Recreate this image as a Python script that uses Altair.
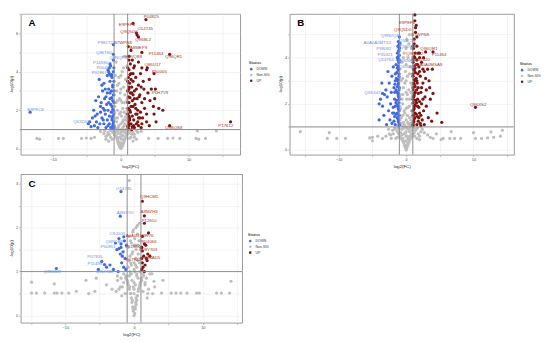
import altair as alt
import pandas as pd

# ---------------- data ----------------
STATUS = ["DOWN", "Non-SIG", "UP"]
STATUS_COLORS = ["#4169E1", "#bebebe", "#7d1414"]

X_TICKS = [-15, -10, -5, 0, 5, 10, 15]

# Panel A
A_NONSIG = [(0, 0.02), (0.1, 0.05), (-0.1, 0.08), (0.2, 0.12), (-0.2, 0.15), (0.3, 0.2), (-0.3, 0.22),
            (0.4, 0.3), (-0.4, 0.3), (0.5, 0.4), (-0.5, 0.42), (0.6, 0.5), (-0.6, 0.55), (0.7, 0.6),
            (-0.75, 0.62), (0.8, 0.7), (-0.85, 0.72), (0.9, 0.8), (-0.95, 0.85), (1.0, 0.9), (-1.1, 0.9),
            (1.2, 0.95), (-1.3, 0.95), (0, 0.3), (0.1, 0.5), (-0.2, 0.6), (0.3, 0.7), (-0.4, 0.8),
            (0.2, 0.9), (0, 0.85), (-1.5, 0.6), (-2.0, 0.7), (-2.5, 0.8), (-3.0, 0.9), (1.5, 0.6),
            (2.0, 0.75), (2.5, 0.85), (3.0, 0.9), (-1.8, 0.4), (1.8, 0.4), (-2.2, 0.5), (2.3, 0.5),
            (-0.15, 0.15), (0.15, 0.2), (-0.25, 0.35), (0.25, 0.3), (0.45, 0.45), (-0.45, 0.5),
            (0.65, 0.6), (-0.65, 0.65), (0.85, 0.7), (-0.9, 0.75), (1.1, 0.8), (-1.2, 0.85), (1.4, 0.9),
            (-1.5, 0.95), (0, 0.6), (0, 0.75), (0.4, 0.95), (-0.4, 0.95), (1.3, 0.55), (-1.3, 0.5),
            (1.8, 0.85), (-1.9, 0.85), (2.3, 0.95), (-2.4, 0.95), (1.6, 0.75), (-1.7, 0.75), (0.6, 0.85),
            (-0.7, 0.9), (2.0, 0.6), (-2.2, 0.65),
            (0, 1.0), (0.3, 1.1), (-0.3, 1.2), (0.6, 1.3), (-0.6, 1.4), (0.8, 1.5), (-0.8, 1.6),
            (0.1, 1.7), (0.5, 1.9), (-0.5, 2.0), (0.9, 2.1), (-0.9, 2.2), (0.2, 2.4), (-0.2, 2.6),
            (0.6, 2.8), (-0.6, 3.0), (0.4, 3.2), (-0.3, 3.4), (0.7, 3.6), (-0.8, 3.8), (0.2, 4.0),
            (0.9, 4.3), (-0.7, 4.5), (0.5, 4.8), (-0.4, 1.1), (0.7, 1.0), (-0.9, 1.2), (0.4, 1.5),
            (-0.2, 1.8), (0.8, 1.8), (-0.7, 2.4), (0.3, 2.1), (-0.1, 2.9), (0.9, 2.5), (-0.5, 3.3),
            (-0.95, 1.1), (0.95, 1.2), (-0.95, 1.5), (0.95, 1.6), (-0.95, 1.9), (0.95, 2.0), (-0.95, 2.4),
            (0.95, 2.6), (-0.95, 2.8), (0.95, 3.0), (0, 1.3), (0, 1.9), (0, 2.5), (0, 3.1), (0, 3.8),
            (-0.5, 1.6), (0.5, 1.2), (-0.5, 2.5), (0.5, 2.4), (-0.3, 3.7), (0.4, 4.2), (0.25, 1.4),
            (-0.65, 1.05), (0.65, 1.65),
            (-12.4, 0.54), (-12.0, 0.5), (-9.2, 0.54), (-8.5, 0.54), (-5.8, 0.54), (-5.1, 0.56),
            (-4.4, 0.54), (-3.9, 0.6), (4.1, 0.54), (5.5, 0.54), (6.9, 0.54), (7.7, 0.56),
            (8.7, 0.54), (11.1, 0.54), (11.5, 0.5), (12.5, 0.54), (11.3, 0.93), (14.1, 0.93)]
A_DOWN = [(-1.1, 1.05), (-1.2, 1.2), (-1.1, 1.4), (-1.3, 1.5), (-1.2, 1.7), (-1.4, 1.9), (-1.1, 2.0),
          (-1.3, 2.2), (-1.5, 2.3), (-1.2, 2.5), (-1.6, 2.6), (-1.1, 2.8), (-1.4, 3.0), (-1.8, 3.1),
          (-1.2, 3.3), (-1.6, 3.5), (-1.3, 3.7), (-2.0, 3.8), (-1.7, 3.9), (-1.1, 4.0), (-1.5, 4.3),
          (-2.2, 1.1), (-2.5, 1.3), (-2.0, 1.5), (-2.8, 1.6), (-2.3, 1.8), (-3.0, 1.9), (-2.6, 2.1),
          (-2.1, 2.3), (-2.9, 2.4), (-2.4, 2.6), (-3.3, 2.7), (-2.0, 2.9), (-2.7, 3.0), (-3.6, 1.4),
          (-3.9, 1.2), (-4.4, 1.15), (-3.4, 1.1), (-4.2, 1.6), (-3.5, 1.8), (-3.2, 3.6), (-2.5, 3.4),
          (-3.0, 2.2), (-1.9, 2.0), (-1.7, 1.3), (-1.5, 1.1), (-4.0, 2.0), (-3.7, 2.5),
          (-1.03, 1.15), (-1.15, 1.3), (-1.3, 1.6), (-1.03, 1.8), (-1.2, 2.05), (-1.03, 2.4),
          (-1.35, 2.65), (-1.03, 3.0), (-1.2, 3.2), (-1.03, 3.5), (-1.35, 3.85), (-1.03, 4.2),
          (-1.7, 1.7), (-1.8, 2.4), (-1.6, 2.9), (-2.2, 2.7), (-2.4, 2.0), (-1.9, 1.2), (-2.6, 1.5),
          (-3.1, 1.3), (-3.8, 1.7), (-4.6, 1.4), (-2.3, 3.1), (-2.8, 3.3), (-1.5, 3.8), (-1.9, 4.1)]
A_UP = [(1.1, 1.05), (1.2, 1.2), (1.1, 1.4), (1.3, 1.5), (1.2, 1.7), (1.4, 1.9), (1.1, 2.1), (1.5, 2.2),
        (1.2, 2.4), (1.7, 2.5), (1.1, 2.7), (1.4, 2.9), (1.2, 3.1), (1.6, 3.2), (1.3, 3.4), (1.8, 3.5),
        (1.1, 3.7), (1.5, 3.9), (1.2, 4.1), (1.9, 4.2), (1.4, 4.4), (1.7, 4.6), (2.0, 1.1), (2.3, 1.3),
        (1.9, 1.5), (2.6, 1.6), (2.2, 1.8), (2.9, 1.9), (2.5, 2.0), (2.1, 2.3), (3.1, 2.4), (2.4, 2.6),
        (2.8, 2.8), (2.0, 3.0), (2.6, 3.3), (3.3, 3.5), (2.2, 3.7), (2.9, 3.9), (2.0, 4.3), (3.1, 4.2),
        (3.8, 4.1), (4.2, 3.6), (3.4, 3.1), (4.5, 3.1), (2.7, 2.7), (3.5, 2.6), (4.8, 2.2), (5.6, 2.1),
        (6.2, 2.0), (3.8, 1.8), (4.9, 1.8), (3.8, 1.4), (5.2, 1.4), (4.2, 1.2), (3.0, 1.1), (2.5, 1.4),
        (3.2, 1.6), (4.0, 2.9), (1.6, 1.0), (1.3, 2.0), (1.8, 2.8), (1.5, 3.6),
        (1.03, 1.15), (1.15, 1.3), (1.3, 1.6), (1.03, 1.8), (1.2, 2.05), (1.03, 2.4), (1.35, 2.65),
        (1.03, 3.0), (1.2, 3.2), (1.03, 3.5), (1.35, 3.85), (1.03, 4.2), (1.7, 1.7), (1.8, 2.2),
        (1.6, 2.9), (2.2, 2.1), (2.4, 1.8), (1.9, 1.2), (2.6, 1.2), (3.1, 1.3), (1.5, 1.3), (1.7, 1.15),
        (2.0, 2.6), (2.3, 3.1), (1.8, 3.9), (1.2, 4.6), (2.6, 4.5), (3.5, 2.1), (4.3, 2.5), (5.0, 2.6),
        (3.0, 3.2), (2.8, 1.6)]
# labelled points: (name, point x, point y, label x, label y)
A_LAB_DOWN = [("P98172", -1.1, 5.4, -2.3, 5.5), ("Q96T60", -1.1, 4.9, -2.5, 4.96),
              ("Q9NQP4", -1.1, 4.6, -0.4, 4.72), ("P14580", -1.6, 4.4, -3.0, 4.47),
              ("P00441", -1.7, 4.2, -2.5, 4.2), ("P02867", -1.8, 4.0, -3.2, 3.92),
              ("E9PFC6", -13.4, 1.9, -12.6, 2.0), ("Q6XD53", -4.8, 1.3, -5.8, 1.4)]
A_LAB_UP = [("P04825", 3.7, 6.7, 4.5, 6.83), ("E9PEF6", 1.8, 6.5, 0.9, 6.42), ("O14745", 2.3, 6.0, 3.6, 6.2),
            ("Q9Q5D0", 2.4, 5.9, 1.2, 6.06), ("Q96BL2", 2.6, 5.8, 3.3, 5.66), ("B7WPN8", 1.1, 5.3, 0.3, 5.48),
            ("A8MEP9", 1.5, 5.1, 2.6, 5.2), ("P11464", 3.1, 5.0, 5.2, 4.9), ("Q96QR1", 7.2, 4.9, 7.8, 4.76),
            ("F8VQ88", 1.2, 4.8, 1.9, 4.75), ("Q86U17", 3.9, 4.2, 4.7, 4.33), ("P50005", 4.9, 3.9, 5.7, 4.0),
            ("P0H7V9", 5.1, 3.1, 5.8, 2.9), ("Q9BQS8", 7.2, 1.2, 7.8, 1.06), ("P17612", 16.2, 1.4, 15.5, 1.17)]

# Panel B
B_NONSIG = [(0, 0.0), (0.1, 0.05), (-0.1, 0.1), (0.2, 0.15), (-0.2, 0.2), (0.3, 0.25), (-0.35, 0.3),
            (0.45, 0.35), (-0.5, 0.4), (0.6, 0.45), (-0.7, 0.5), (0.8, 0.55), (-0.9, 0.6), (1.0, 0.65),
            (-1.1, 0.7), (1.2, 0.75), (-1.3, 0.8), (1.4, 0.85), (-1.6, 0.9), (1.7, 0.95), (-2.0, 0.85),
            (2.2, 0.8), (-2.5, 0.7), (2.7, 0.75), (-3.0, 0.6), (3.2, 0.65), (-3.5, 0.5), (3.6, 0.55),
            (0, 0.4), (0.2, 0.6), (-0.3, 0.7), (0.5, 0.8), (-0.6, 0.9), (0.1, 0.95), (-0.1, 0.75),
            (0.3, 0.5), (-2.2, 0.5), (2.0, 0.45), (-1.5, 0.5), (1.6, 0.5), (-4.2, 0.6), (4.5, 0.7),
            (-5.0, 0.4), (5.2, 0.45),
            (-0.15, 0.15), (0.15, 0.2), (-0.25, 0.35), (0.25, 0.3), (0.4, 0.45), (-0.45, 0.5), (0.6, 0.6),
            (-0.6, 0.65), (0.75, 0.7), (-0.8, 0.75), (0.9, 0.85), (-1.0, 0.9), (1.1, 0.95), (-1.2, 0.95),
            (0, 0.6), (0, 0.8), (0.35, 0.9), (-0.3, 0.95), (1.3, 0.6), (-1.3, 0.55), (1.8, 0.7),
            (-1.9, 0.7), (2.4, 0.9), (-2.6, 0.9), (1.5, 0.9), (-1.7, 0.95), (0.6, 0.95), (-0.6, 0.45),
            (2.0, 0.6), (-2.3, 0.65),
            (-11.7, 0.5), (-10.3, 0.5), (-9.0, 0.5), (-5.4, 0.52), (-5.0, 0.55), (4.0, 0.5), (5.5, 0.5),
            (6.5, 0.5), (7.2, 0.5), (8.1, 0.5), (10.3, 0.5), (11.2, 0.5), (12.1, 0.52), (13.0, 0.55),
            (14.0, 0.6), (-15.7, 0.8), (-11.4, 0.75), (6.7, 0.8), (10.0, 0.75), (12.6, 0.78), (14.3, 0.85),
            (0, 1.0), (0.4, 1.1), (-0.4, 1.2), (0.7, 1.3), (-0.7, 1.4), (0.2, 1.5), (-0.2, 1.6), (0.8, 1.7),
            (-0.8, 1.8), (0.5, 1.9), (-0.5, 2.0), (0.1, 2.2), (0.9, 2.3), (-0.9, 2.4), (0.4, 2.6),
            (-0.4, 2.7), (0.7, 2.9), (-0.7, 3.0), (0.2, 3.2), (-0.1, 3.4), (0.6, 3.6), (-0.6, 3.8),
            (0.3, 4.0), (-0.3, 4.2), (0.8, 4.4), (-0.8, 4.6), (0.1, 4.8), (0.5, 5.0), (-0.5, 1.05),
            (0.6, 1.15), (-0.9, 1.3), (0.9, 1.45), (-0.3, 1.7), (0.3, 1.85), (-0.6, 2.2), (0.7, 2.5),
            (-0.2, 2.9), (0.2, 2.4),
            (-0.95, 1.1), (0.95, 1.2), (-0.95, 1.5), (0.95, 1.6), (-0.95, 1.9), (0.95, 2.0), (-0.95, 2.3),
            (0.95, 2.4), (-0.95, 2.7), (0.95, 2.8), (-0.95, 3.1), (0.95, 3.2), (-0.95, 3.5), (0.95, 3.6),
            (-0.95, 3.9), (0.95, 4.0), (0, 1.3), (0, 1.8), (0, 2.5), (0, 3.0), (0, 3.7), (0, 4.4),
            (-0.5, 1.5), (0.5, 1.4), (-0.5, 2.4), (0.5, 2.2), (-0.5, 3.1), (0.5, 3.3), (-0.4, 4.0),
            (0.4, 4.6), (-0.25, 1.1), (0.25, 1.2), (0.65, 1.05), (-0.75, 1.15)]
B_DOWN = [(-1.05, 1.05), (-1.1, 1.2), (-1.2, 1.35), (-1.05, 1.5), (-1.3, 1.6), (-1.1, 1.75), (-1.2, 1.9),
          (-1.05, 2.05), (-1.4, 2.15), (-1.1, 2.3), (-1.2, 2.45), (-1.05, 2.6), (-1.3, 2.75), (-1.1, 2.9),
          (-1.2, 3.05), (-1.05, 3.2), (-1.4, 3.35), (-1.1, 3.5), (-1.2, 3.65), (-1.05, 3.8), (-1.3, 4.0),
          (-1.1, 4.3), (-1.2, 4.5), (-1.6, 1.1), (-1.8, 1.25), (-2.1, 1.15), (-1.7, 1.45), (-2.4, 1.3),
          (-2.0, 1.6), (-2.6, 1.7), (-1.9, 1.85), (-2.3, 2.0), (-1.7, 2.2), (-2.8, 2.3), (-2.2, 2.5),
          (-1.8, 2.7), (-3.0, 2.6), (-2.5, 2.9), (-1.6, 3.0), (-2.1, 3.2), (-3.6, 2.9), (-3.8, 2.2),
          (-4.0, 2.0), (-4.0, 1.3), (-3.3, 1.5), (-3.5, 1.9), (-2.9, 1.1), (-3.2, 2.4), (-2.7, 3.4),
          (-1.9, 3.6),
          (-1.03, 1.1), (-1.15, 1.25), (-1.3, 1.4), (-1.45, 1.55), (-1.03, 1.7), (-1.15, 1.8),
          (-1.3, 1.95), (-1.5, 2.05), (-1.03, 2.2), (-1.15, 2.35), (-1.3, 2.5), (-1.5, 2.6), (-1.03, 2.7),
          (-1.15, 2.85), (-1.3, 3.0), (-1.45, 3.1), (-1.03, 3.3), (-1.15, 3.45), (-1.3, 3.55),
          (-1.5, 3.7), (-1.03, 3.9), (-1.15, 4.05), (-1.3, 4.2), (-1.03, 4.45), (-1.15, 4.7),
          (-1.6, 1.9), (-1.7, 2.5), (-1.6, 3.3), (-1.8, 1.6), (-1.65, 2.85)]
B_UP = [(1.05, 1.05), (1.1, 1.2), (1.2, 1.35), (1.05, 1.5), (1.3, 1.6), (1.1, 1.75), (1.2, 1.9),
        (1.05, 2.05), (1.4, 2.15), (1.1, 2.3), (1.25, 2.45), (1.05, 2.6), (1.35, 2.75), (1.1, 2.9),
        (1.2, 3.05), (1.05, 3.2), (1.4, 3.35), (1.1, 3.5), (1.25, 3.65), (1.05, 3.8), (1.3, 4.0),
        (1.1, 4.4), (1.2, 4.6), (1.3, 5.85), (1.6, 1.1), (1.8, 1.25), (2.1, 1.15), (1.7, 1.45),
        (2.4, 1.3), (2.0, 1.6), (2.6, 1.7), (1.9, 1.85), (2.3, 2.0), (1.7, 2.2), (2.8, 2.3), (2.2, 2.5),
        (1.8, 2.7), (3.0, 2.6), (2.5, 2.9), (1.6, 3.0), (2.1, 3.2), (2.7, 3.4), (1.9, 3.6), (2.3, 3.8),
        (3.2, 3.5), (2.5, 3.5), (2.0, 4.0), (1.6, 4.5), (3.4, 3.0), (3.0, 1.9), (3.3, 1.4), (2.7, 1.1),
        (3.6, 2.2), (3.9, 3.5), (4.0, 2.45), (4.6, 1.6), (5.3, 1.2), (3.8, 1.25), (3.5, 2.7), (2.9, 3.1),
        (1.03, 1.1), (1.15, 1.25), (1.3, 1.4), (1.5, 1.55), (1.03, 1.7), (1.2, 1.8), (1.35, 1.95),
        (1.55, 2.05), (1.03, 2.2), (1.2, 2.35), (1.35, 2.5), (1.55, 2.6), (1.03, 2.7), (1.2, 2.85),
        (1.35, 3.0), (1.5, 3.1), (1.03, 3.3), (1.2, 3.45), (1.35, 3.55), (1.55, 3.7), (1.03, 3.9),
        (1.2, 4.05), (1.35, 4.2), (1.03, 4.5), (1.2, 4.8), (1.7, 1.9), (1.8, 2.45), (1.75, 3.3),
        (1.9, 1.4), (1.65, 2.9), (2.0, 2.1), (2.2, 1.5), (2.5, 2.2), (2.3, 2.7), (2.0, 3.4), (2.6, 4.0),
        (1.8, 4.2), (1.4, 5.1), (1.5, 5.4), (2.2, 1.05)]
B_LAB_DOWN = [("Q9NVQ4", -1.0, 4.9, -2.4, 4.94), ("A0A0A0MT32", -1.0, 4.65, -4.3, 4.62),
              ("Q5AC51", -1.05, 4.55, 0.2, 4.7), ("P98082", -1.0, 4.4, -3.3, 4.37),
              ("Q96XT6", -1.05, 4.3, 0.3, 4.45), ("P35321", -1.0, 4.1, -3.1, 4.13),
              ("Q14764", -1.2, 3.9, -3.0, 3.89), ("Q6KN86", -1.1, 3.8, 0.0, 3.86),
              ("Q6UX06", -1.1, 3.55, 0.2, 3.59), ("Q3SX42", -3.5, 2.45, -5.0, 2.46)]
B_LAB_UP = [("E9PEF6", 1.3, 5.6, 0.14, 5.48), ("Q9Q5D0", 1.4, 5.3, -0.5, 5.2), ("B7WPN8", 1.6, 4.9, 2.1, 4.98),
            ("Q96QR1", 2.9, 4.25, 3.4, 4.37), ("P11464", 4.0, 4.25, 4.9, 4.13), ("Q9NCL2", 2.0, 4.2, 1.3, 4.16),
            ("Q92820", 1.6, 3.9, 2.4, 3.9), ("A0A0A0MSA9", 1.7, 3.7, 3.3, 3.66),
            ("Q96XS2", 10.3, 1.85, 10.7, 1.96)]

# Panel C
C_NONSIG = [(0, 0.0), (0.1, 0.05), (-0.1, 0.1), (0.2, 0.15), (-0.2, 0.2), (0.3, 0.25), (-0.3, 0.3),
            (0.4, 0.35), (-0.4, 0.4), (0.5, 0.45), (-0.55, 0.5), (0.6, 0.55), (-0.7, 0.6), (0.75, 0.65),
            (-0.85, 0.7), (0.9, 0.75), (-1.0, 0.8), (1.1, 0.85), (-1.2, 0.9), (1.3, 0.95), (-1.5, 0.75),
            (1.6, 0.7), (-2.0, 0.65), (2.1, 0.6), (-2.6, 0.55), (2.7, 0.5), (-3.2, 0.6), (3.0, 0.65),
            (0, 0.5), (0.2, 0.7), (-0.3, 0.8), (0.4, 0.9), (-0.5, 0.95), (0.1, 1.0), (-0.1, 0.65),
            (0.3, 0.4), (-1.8, 0.45), (1.9, 0.4), (-4.0, 0.7), (4.2, 0.8), (-5.5, 0.85), (-2.4, 0.9),
            (2.6, 0.95),
            (-0.15, 0.15), (0.15, 0.2), (-0.25, 0.35), (0.25, 0.3), (0.45, 0.45), (-0.45, 0.5),
            (0.65, 0.6), (-0.65, 0.65), (0.85, 0.7), (-0.9, 0.75), (1.1, 0.8), (-1.2, 0.85), (1.4, 0.9),
            (-1.5, 0.95), (0, 0.6), (0, 0.75), (0.4, 0.95), (-0.4, 0.95), (1.3, 0.55), (-1.3, 0.5),
            (1.8, 0.85), (-1.9, 0.85), (2.3, 0.95), (-2.4, 0.8), (1.6, 0.75), (-1.7, 0.65), (0.6, 0.85),
            (-0.7, 0.9), (2.0, 0.5), (-2.2, 0.6),
            (0, 1.05), (0.4, 1.1), (-0.4, 1.15), (0.8, 1.2), (-0.8, 1.25), (0.2, 1.3), (1.2, 1.05),
            (-0.6, 1.35), (0.6, 1.4), (-0.2, 1.45), (0.9, 1.5), (-0.9, 1.55), (0.3, 1.6), (-0.4, 1.65),
            (0.7, 1.7), (0.1, 1.75), (-0.7, 1.8), (0.5, 1.85), (-0.2, 1.9), (0.5, 2.05), (0.3, 2.0),
            (-0.5, 1.2), (1.0, 1.3), (0.8, 2.1), (-0.7, 3.07), (0.95, 1.7),
            (0, 1.2), (-0.3, 1.4), (0.3, 1.5), (0, 1.6), (-0.5, 1.7), (0.6, 1.6), (-0.1, 1.95),
            (0.2, 1.15), (-0.85, 1.1), (0.85, 1.0), (-0.6, 1.0), (0.55, 1.25),
            (-14.9, 0.51), (-14.2, 0.51), (-13.0, 0.51), (-11.6, 0.51), (-11.2, 0.51), (-10.5, 0.51),
            (-9.5, 0.51), (-8.4, 0.55), (-6.6, 0.5), (-5.7, 0.55), (4.0, 0.51), (5.4, 0.51), (6.1, 0.51),
            (6.8, 0.51), (7.7, 0.51), (9.1, 0.51), (9.5, 0.51), (12.0, 0.51), (12.7, 0.51), (13.9, 0.51),
            (-14.9, 0.76), (-11.6, 0.72), (-7.0, 0.8), (2.9, 0.78), (14.1, 0.78)]
C_DOWN = [(-1.2, 1.05), (-1.5, 1.1), (-1.8, 1.2), (-1.3, 1.3), (-2.0, 1.4), (-1.6, 1.45), (-2.5, 1.5),
          (-1.9, 1.55), (-1.4, 1.7), (-2.2, 1.75), (-2.7, 1.65), (-1.7, 1.35), (-3.0, 1.05), (-3.5, 1.15),
          (-2.3, 1.0), (-4.0, 1.1), (-1.1, 1.6)]
C_UP = [(1.1, 1.05), (1.3, 1.1), (1.6, 1.15), (1.2, 1.2), (1.8, 1.3), (1.4, 1.35), (2.0, 1.4),
        (1.1, 1.55), (1.7, 1.6), (1.2, 1.8), (2.3, 1.35), (1.5, 1.0)]
C_LAB_DOWN = [("O14745", -1.9, 2.82, -1.5, 2.87), ("A6NYV0", -2.0, 2.26, -1.3, 2.33),
              ("C9J0G5", -1.5, 1.79, -2.4, 1.85), ("Q6PCB8", -1.9, 1.63, -2.9, 1.68),
              ("P50851", -2.2, 1.52, -3.8, 1.55), ("P07355", -4.7, 1.23, -5.7, 1.32),
              ("P11498", -4.3, 1.16, -5.7, 1.17), ("Q9UHB6", -5.2, 1.05, -4.3, 1.0),
              ("Q8N6M9", -11.3, 1.07, -11.9, 0.99)]
C_LAB_UP = [("Q9HCM1", 1.2, 2.6, 2.2, 2.7), ("A8MZH3", 1.5, 2.27, 2.2, 2.35), ("P12610", 1.5, 2.1, 2.2, 2.16),
            ("A0A0U1RRV6", 2.1, 1.88, 0.8, 1.81), ("P04066", 1.5, 1.63, 2.2, 1.67),
            ("P51884", 1.1, 1.55, -0.2, 1.57), ("Q9Y703", 1.2, 1.47, 2.2, 1.49),
            ("P07942", 1.1, 1.3, -0.1, 1.27), ("Q96AD5", 1.9, 1.25, 2.6, 1.3)]

FONT = "Liberation Sans"


def panel(letter, nonsig, down, up, lab_down, lab_up, xdom, ydom, yticks, ymajor, w, h, lx, ly):
    rows = [(x, y, "Non-SIG") for x, y in nonsig]
    rows += [(x, y, "DOWN") for x, y in down] + [(x, y, "DOWN") for _, x, y, _, _ in lab_down]
    rows += [(x, y, "UP") for x, y in up] + [(x, y, "UP") for _, x, y, _, _ in lab_up]
    df = pd.DataFrame(rows, columns=["x", "y", "status"])

    xs = alt.Scale(domain=xdom, nice=False, zero=False)
    ys = alt.Scale(domain=ydom, nice=False, zero=False)
    X = alt.X("x:Q", scale=xs, title="log2(FC)",
              axis=alt.Axis(values=X_TICKS, format="d",
                            labelExpr="datum.value % 10 == 0 ? datum.label : ''"))
    Y = alt.Y("y:Q", scale=ys, title="-log10(p)",
              axis=alt.Axis(values=yticks, format=".0f",
                            labelExpr="datum.value % " + str(ymajor) + " == 0 ? datum.label : ''"))

    pts = alt.Chart(df).mark_circle(size=11, opacity=1).encode(
        x=X, y=Y,
        color=alt.Color("status:N", scale=alt.Scale(domain=STATUS, range=STATUS_COLORS),
                        legend=alt.Legend(title="Status", orient="none", legendX=lx, legendY=ly,
                                          titleFontSize=4.5, labelFontSize=3.5, symbolSize=7,
                                          rowPadding=2, titlePadding=2, labelOffset=3,
                                          symbolType="circle", titleFont=FONT, labelFont=FONT,
                                          titleFontWeight="normal", labelColor="#333")),
    )
    vr = alt.Chart(pd.DataFrame({"x": [-1, 1]})).mark_rule(color="#8c8c8c", strokeWidth=1).encode(x=X)
    hr = alt.Chart(pd.DataFrame({"y": [1]})).mark_rule(color="#8c8c8c", strokeWidth=1).encode(y=Y)

    layers = [pts, vr, hr]
    for labs, col in ((lab_down, "#6f8fe3"), (lab_up, "#a3392b")):
        ldf = pd.DataFrame([(n, lxv, lyv) for n, _, _, lxv, lyv in labs], columns=["name", "x", "y"])
        layers.append(alt.Chart(ldf).mark_text(
            align="center", baseline="middle", fontSize=4.5, font=FONT, color=col
        ).encode(x=X, y=Y, text="name:N"))
    let = alt.Chart(pd.DataFrame({"t": [letter]})).mark_text(
        align="left", baseline="alphabetic", fontSize=10, fontWeight="bold", font=FONT, color="#000"
    ).encode(x=alt.value(8), y=alt.value(13), text="t:N")
    layers.append(let)
    return alt.layer(*layers).properties(width=w, height=h)


pa = panel("A", A_NONSIG, A_DOWN, A_UP, A_LAB_DOWN, A_LAB_UP, [-14.8, 17.6], [-0.3, 7.0],
           [0, 1, 2, 3, 4, 5, 6, 7], 2, 226, 145, 235, 48)
pb = panel("B", B_NONSIG, B_DOWN, B_UP, B_LAB_DOWN, B_LAB_UP, [-17.3, 16.0], [-0.2, 5.9],
           [0, 1, 2, 3, 4, 5], 2, 231, 145, 237, 49)
pc = panel("C", C_NONSIG, C_DOWN, C_UP, C_LAB_DOWN, C_LAB_UP, [-16.5, 15.7], [-0.16, 3.22],
           [0, 0.5, 1, 1.5, 2, 2.5, 3], 1, 228, 153, 234, 60)

top = alt.hconcat(pa, pb, spacing=6).resolve_scale(color="independent", x="independent", y="independent")
chart = alt.vconcat(top, pc, spacing=5).resolve_scale(
    color="independent", x="independent", y="independent"
).resolve_legend(color="independent").properties(padding=0).configure_view(
    stroke="#999999", strokeWidth=1
).configure_axis(
    labelFontSize=4, titleFontSize=4.5, tickSize=2, labelPadding=1, titlePadding=2,
    domain=False, gridColor="#ebebeb", gridWidth=0.6, tickColor="#999999", tickWidth=0.6,
    labelColor="#4d4d4d", titleColor="#222222", labelFont=FONT, titleFont=FONT,
    titleFontWeight="normal"
)

chart.save("out.html", embed_options={"renderer": "svg", "actions": False})
